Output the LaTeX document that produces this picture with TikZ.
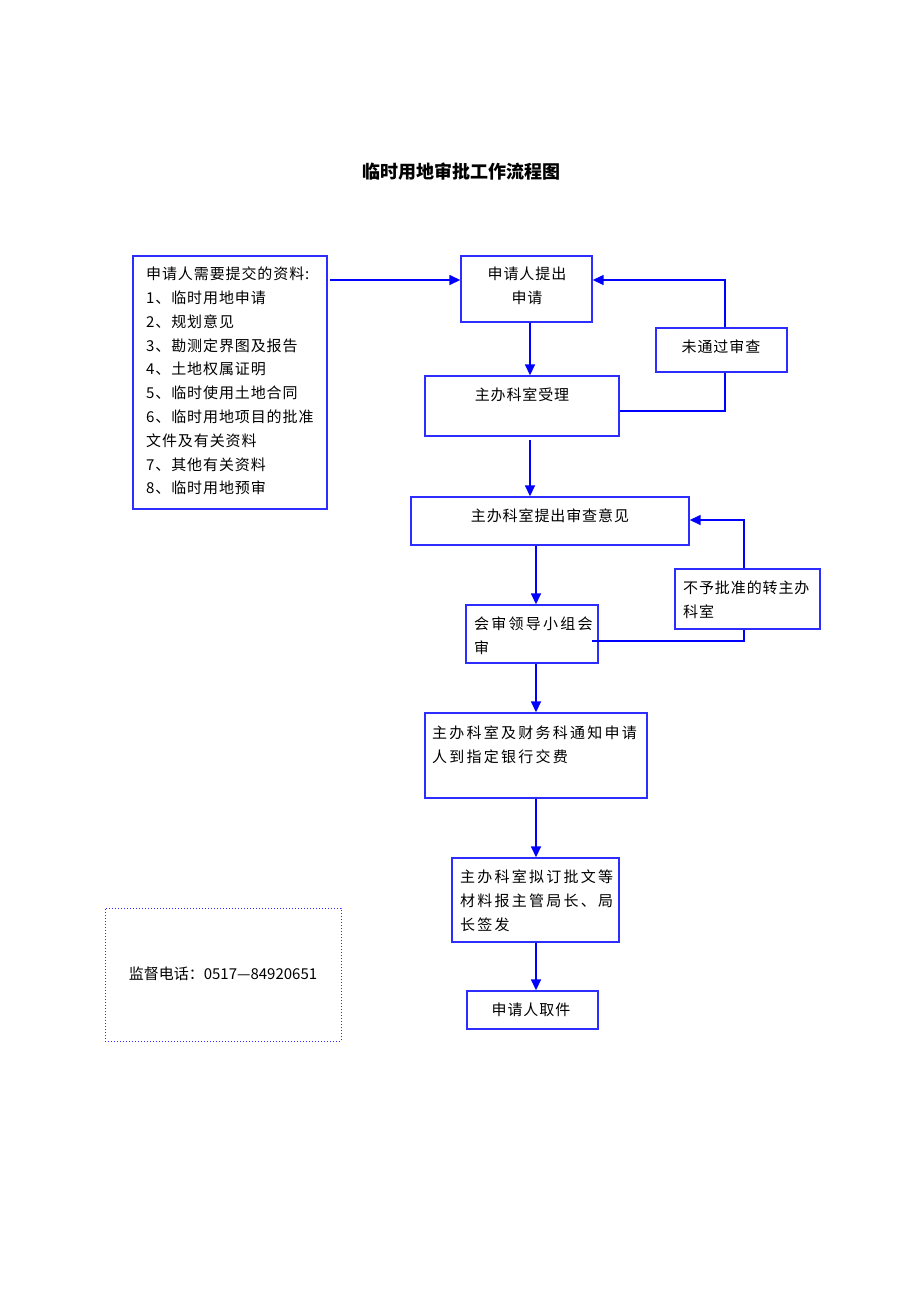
\documentclass[tikz,border=0pt]{standalone}
\usepackage{fontspec}
\usetikzlibrary{arrows.meta}
\newfontfamily\cjk{Noto Sans CJK SC}
\newfontfamily\cjks[LetterSpace=6]{Noto Sans CJK SC}
\newfontfamily\cjkw[LetterSpace=15]{Noto Sans CJK SC}
\definecolor{lineblue}{RGB}{0,0,255}
\definecolor{boxblue}{RGB}{45,45,255}
\begin{document}
\begin{tikzpicture}[x=1pt,y=-1pt,
  box/.style={draw=boxblue,line width=1.4pt,rectangle,inner sep=0pt},
  dotbox/.style={draw=boxblue,line width=1pt,dotted,rectangle,inner sep=0pt},
  conn/.style={draw=lineblue,line width=1.5pt},
  arr/.style={conn,-{Triangle[length=11pt,width=10pt]}},
  txt/.style={inner sep=0pt,font=\fontsize{15}{24}\selectfont\cjks,text=black}]
\useasboundingbox[fill=white] (0,0) rectangle (920,1302);

\node[inner sep=0pt,font=\fontsize{18}{22}\selectfont\cjk\bfseries] (title) at (461,172) {临时用地审批工作流程图};

% boxes
\node[box,minimum width=194,minimum height=253] (L) at (230,382.5) {};
\node[box,minimum width=131,minimum height=66] (A) at (526.5,289) {};
\node[box,minimum width=131,minimum height=44] (R1) at (721.5,350) {};
\node[box,minimum width=194,minimum height=60] (B) at (522,406) {};
\node[box,minimum width=278,minimum height=48] (C) at (550,521) {};
\node[box,minimum width=145,minimum height=60] (R2) at (747.5,599) {};
\node[box,minimum width=132,minimum height=58] (D) at (532,634) {};
\node[box,minimum width=222,minimum height=85] (E) at (536,755.5) {};
\node[box,minimum width=167,minimum height=84] (F) at (535.5,900) {};
\node[box,minimum width=131,minimum height=38] (G) at (532.5,1010) {};
\node[dotbox,minimum width=236,minimum height=133] (S) at (223,974.5) {};

% texts
\node[txt,anchor=west,align=left,font=\fontsize{15}{23.8}\selectfont\cjks] (Lt) at (146,381)
 {申请人需要提交的资料:\\1、临时用地申请\\2、规划意见\\3、勘测定界图及报告\\4、土地权属证明\\5、临时使用土地合同\\6、临时用地项目的批准\\文件及有关资料\\7、其他有关资料\\8、临时用地预审};
\node[txt,align=center] (At) at (527,286) {申请人提出\\申请};
\node[txt] (R1t) at (721,347) {未通过审查};
\node[txt] (Bt) at (522,395) {主办科室受理};
\node[txt] (Ct) at (550,516) {主办科室提出审查意见};
\node[txt,anchor=west,align=left] (R2t) at (683,599.5) {不予批准的转主办\\科室};
\node[txt,anchor=west,align=left,font=\fontsize{15}{24}\selectfont\cjkw] (Dt) at (474,636) {会审领导小组会\\审};
\node[txt,anchor=west,align=left,font=\fontsize{15}{24}\selectfont\cjkw] (Et) at (432,745) {主办科室及财务科通知申请\\人到指定银行交费};
\node[txt,anchor=west,align=left,font=\fontsize{15}{24}\selectfont\cjkw] (Ft) at (460,901) {主办科室拟订批文等\\材料报主管局长、局\\长签发};
\node[txt] (Gt) at (531,1010) {申请人取件};
\node[txt,font=\fontsize{15}{24}\selectfont\cjk] (St) at (223,974) {监督电话：0517—84920651};

% connectors
\coordinate (lb) at (330,280);
\draw[arr] (lb) -- (lb -| A.west);
\draw[arr] (A.south -| 530,0) -- (B.north -| 530,0);
\coordinate (b1) at (B.east |- 0,411);
\draw[conn] (b1) -- (b1 -| 725,0) -- (R1.south -| 725,0);
\coordinate (a1) at (A.east |- 0,280);
\draw[arr] (R1.north -| 725,0) -- (a1 -| 725,0) -- (a1);
\draw[arr] (530,440) -- (C.north -| 530,0);
\draw[arr] (C.south -| 536,0) -- (D.north -| 536,0);
\coordinate (d1) at (592,641);
\draw[conn] (d1) -- (d1 -| 744,0) -- (R2.south -| 744,0);
\coordinate (c1) at (C.east |- 0,520);
\draw[arr] (R2.north -| 744,0) -- (c1 -| 744,0) -- (c1);
\draw[arr] (D.south -| 536,0) -- (E.north -| 536,0);
\draw[arr] (E.south -| 536,0) -- (F.north -| 536,0);
\draw[arr] (F.south -| 536,0) -- (G.north -| 536,0);
\end{tikzpicture}
\end{document}
